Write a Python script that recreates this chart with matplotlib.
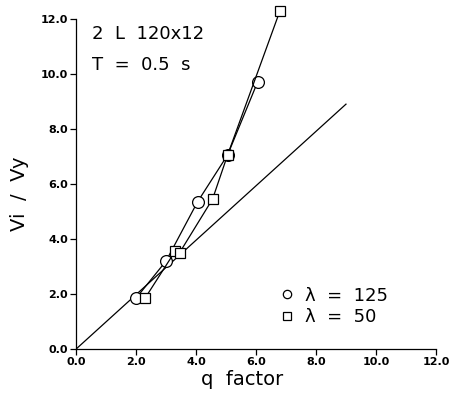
import numpy as np
import matplotlib
matplotlib.use('Agg')
import matplotlib.pyplot as plt

# data
q_125 = [2.0, 3.0, 4.05, 5.05, 6.05]
v_125 = [1.85, 3.2, 5.35, 7.05, 9.7]
q_50 = [2.3, 3.3, 3.45, 4.55, 5.05, 6.8]
v_50 = [1.85, 3.55, 3.5, 5.45, 7.05, 12.3]
q_line = [0.0, 9.0]
v_line = [0.0, 8.9]
ticks = [0, 2, 4, 6, 8, 10, 12]
tick_labels = ['0.0', '2.0', '4.0', '6.0', '8.0', '10.0', '12.0']

fig = plt.figure(figsize=(4.56, 3.93), dpi=100)
ax = fig.add_axes([0.167, 0.112, 0.789, 0.840])

ax.plot(q_line, v_line, color='black', lw=0.9)
ax.plot(q_125, v_125, color='black', lw=0.9, marker='o', ms=8.5,
        mfc='white', mec='black', mew=0.9, label='λ  =  125', clip_on=False)
ax.plot(q_50, v_50, color='black', lw=0.9, marker='s', ms=6.5,
        mfc='white', mec='black', mew=0.9, label='λ  =  50', clip_on=False)

ax.set_xlim(0, 12)
ax.set_ylim(0, 12)
ax.set_xticks(ticks)
ax.set_xticklabels(tick_labels, fontsize=8, fontweight='bold')
ax.set_yticks(ticks)
ax.set_yticklabels(tick_labels, fontsize=8, fontweight='bold')
ax.tick_params(direction='out', length=4, width=0.9, pad=2)
ax.spines['top'].set_visible(False)
ax.spines['right'].set_visible(False)
ax.spines['left'].set_linewidth(0.9)
ax.spines['bottom'].set_linewidth(0.9)

ax.set_xlabel('q  factor', fontsize=14, labelpad=0)
ax.xaxis.set_label_coords(0.46, -0.065)
ax.set_ylabel('Vi  /  Vy', fontsize=14)
ax.yaxis.set_label_coords(-0.13, 0.47)

ax.text(0.045, 0.955, '2  L  120x12', transform=ax.transAxes, fontsize=13,
        va='center', ha='left')
ax.text(0.045, 0.86, 'T  =  0.5  s', transform=ax.transAxes, fontsize=13,
        va='center', ha='left')

leg = ax.legend(loc='lower left', bbox_to_anchor=(0.52, 0.02), frameon=False,
                fontsize=13, handlelength=0.8, handletextpad=0.6,
                labelspacing=0.2)
for h in leg.legend_handles:
    h.set_linestyle('none')
    h.set_markersize(6)

plt.savefig('out.png', dpi=100)
